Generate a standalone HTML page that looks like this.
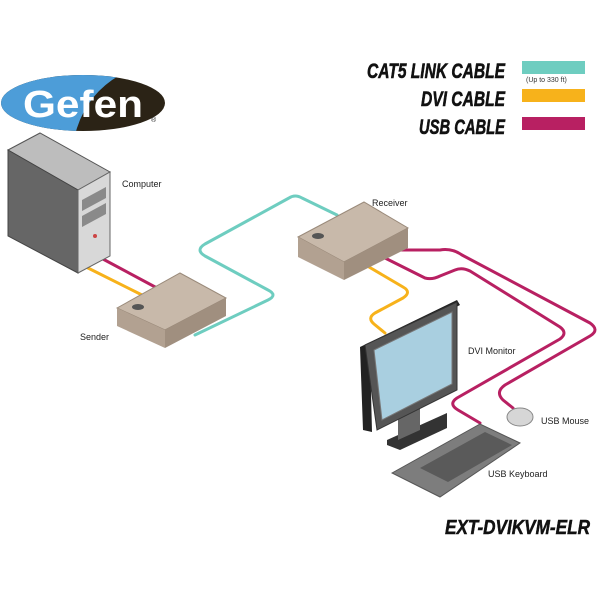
<!DOCTYPE html>
<html><head><style>html,body{margin:0;padding:0;background:#fff}svg{display:block}</style></head>
<body>
<svg width="600" height="600" viewBox="0 0 600 600" xmlns="http://www.w3.org/2000/svg" font-family="Liberation Sans, sans-serif">
<defs><clipPath id="ec"><ellipse cx="83" cy="103" rx="82" ry="28"/></clipPath></defs>
<ellipse cx="83" cy="103" rx="82" ry="28" fill="#2b2316"/>
<path d="M0,75 L120,75 Q85,95 75,135 L0,135Z" fill="#4d9dd8" clip-path="url(#ec)"/>
<text x="23" y="117" font-size="38" font-weight="bold" fill="#fff" textLength="120" lengthAdjust="spacingAndGlyphs">Gefen</text>
<text x="151" y="122" font-size="7" fill="#222">®</text>
<g font-weight="bold" font-style="italic" font-size="21" fill="#111" text-anchor="end" stroke="#111" stroke-width="0.6">
<text x="505" y="78" textLength="138" lengthAdjust="spacingAndGlyphs">CAT5 LINK CABLE</text>
<text x="505" y="106" textLength="84" lengthAdjust="spacingAndGlyphs">DVI CABLE</text>
<text x="505" y="134" textLength="86" lengthAdjust="spacingAndGlyphs">USB CABLE</text>
</g>
<rect x="522" y="61" width="63" height="13" fill="#6ecdc0"/>
<text x="526" y="82" font-size="7" fill="#333">(Up to 330 ft)</text>
<rect x="522" y="89" width="63" height="13" fill="#f7b21b"/>
<rect x="522" y="117" width="63" height="13" fill="#b82062"/>
<g fill="none" stroke-width="3" stroke-linejoin="round" stroke-linecap="round">
<path d="M101,258 L157,288" stroke="#b82062"/>
<path d="M88,268 L142,295" stroke="#f7b21b"/>
<path d="M195,335 L268,300 Q278,295 268,290 L205,256 Q195,250 205,244 L289,198 Q295,194 302,198 L337,215" stroke="#6ecdc0"/>
<path d="M369,267 L403,287 Q412,292 403,298 L375,313 Q367,318 374,324 L385,333" stroke="#f7b21b"/>
<path d="M398,250 L440,250 Q452,248 462,255 L590,323 Q600,330 590,336 L505,385 Q495,392 503,400 L513,408" stroke="#b82062"/>
<path d="M383,257 L425,278 Q432,280 440,276 L455,270 Q462,267 470,271 L560,327 Q568,333 560,339 L457,398 Q448,404 458,410 L480,423" stroke="#b82062"/>
</g>
<polygon points="8,150 40,133 110,172 78,190" fill="#bdbdbd" stroke="#555" stroke-width="1"/>
<polygon points="8,150 78,190 78,273 8,236" fill="#666" stroke="#444" stroke-width="1"/>
<polygon points="78,190 110,172 110,256 78,273" fill="#d8d8d8" stroke="#666" stroke-width="1"/>
<polygon points="82,200 106,187 106,198 82,211" fill="#8a8a8a"/>
<polygon points="82,216 106,203 106,214 82,227" fill="#8a8a8a"/>
<circle cx="95" cy="236" r="2" fill="#c44"/>
<polygon points="117,308 180,273 226,298 165,330" fill="#c8b9aa" stroke="#9a8a7a"/>
<polygon points="117,308 165,330 165,348 117,326" fill="#b2a191"/>
<polygon points="165,330 226,298 226,316 165,348" fill="#a08f7f"/>
<ellipse cx="138" cy="307" rx="6" ry="3" fill="#555"/>
<polygon points="298,237 364,202 408,228 344,262" fill="#c8b9aa" stroke="#9a8a7a"/>
<polygon points="298,237 344,262 344,280 298,257" fill="#b2a191"/>
<polygon points="344,262 408,228 408,248 344,280" fill="#a08f7f"/>
<ellipse cx="318" cy="236" rx="6" ry="3" fill="#555"/>
<polygon points="387,440 447,413 447,428 400,450 387,445" fill="#333"/>
<polygon points="398,415 420,405 420,430 398,440" fill="#666"/>
<polygon points="360,347 457,300 460,305 370,352 372,432 363,430" fill="#222"/>
<polygon points="365,345 457,302 457,390 377,430" fill="#555" stroke="#333"/>
<polygon points="374,350 452,312 452,384 382,420" fill="#a9cfe0" stroke="#777"/>
<polygon points="392,473 480,424 520,443 440,497" fill="#7d7d7d" stroke="#555"/>
<polygon points="420,468 485,432 512,445 448,482" fill="#5a5a5a"/>
<ellipse cx="520" cy="417" rx="13" ry="9" fill="#d6d6d6" stroke="#888"/>
<g font-size="9" fill="#222">
<text x="122" y="187">Computer</text>
<text x="372" y="206">Receiver</text>
<text x="80" y="340">Sender</text>
<text x="468" y="354">DVI Monitor</text>
<text x="541" y="424">USB Mouse</text>
<text x="488" y="477">USB Keyboard</text>
</g>
<text x="590" y="534" font-size="20" font-weight="bold" font-style="italic" text-anchor="end" textLength="145" lengthAdjust="spacingAndGlyphs" fill="#111" stroke="#111" stroke-width="0.5">EXT-DVIKVM-ELR</text>
</svg>
</body></html>
